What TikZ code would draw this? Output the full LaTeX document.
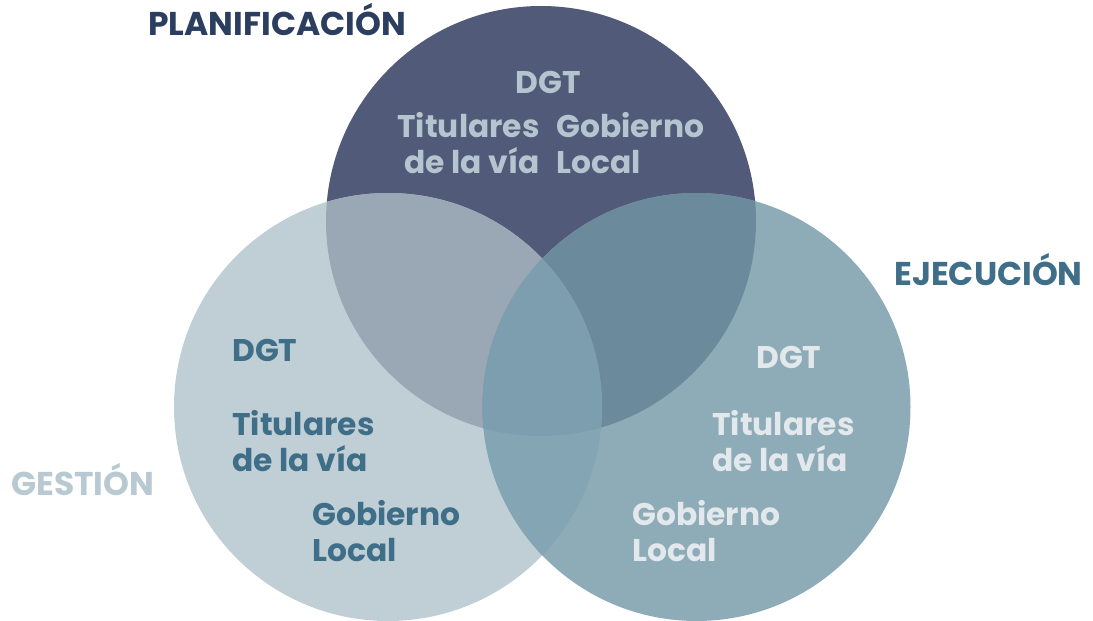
\documentclass[tikz,border=0pt]{standalone}
\usepackage{fontspec}
\setmainfont{Poppins}
\usepackage{tikz}

\definecolor{planC}{HTML}{515A78}
\definecolor{gestC}{HTML}{C0CED5}
\definecolor{ejecC}{HTML}{8EABB8}
\definecolor{planGest}{HTML}{9AA8B5}
\definecolor{planEjec}{HTML}{6B8A9C}
\definecolor{gestEjec}{HTML}{84A5B4}
\definecolor{allC}{HTML}{7D9EAE}
\definecolor{planTitle}{HTML}{2B3E5F}
\definecolor{gestTitle}{HTML}{B9C9D1}
\definecolor{ejecTitle}{HTML}{3F6E88}
\definecolor{planText}{HTML}{B5C5CF}
\definecolor{gestText}{HTML}{3F6E88}
\definecolor{ejecText}{HTML}{E2E8EC}

\tikzset{
  lbl/.style={inner sep=0pt, font=\fontsize{23.5}{27}\selectfont\bfseries},
  ttl/.style={inner sep=0pt, font=\fontsize{24.7}{27}\selectfont\bfseries, anchor=base west}
}

\begin{document}
\begin{tikzpicture}[x=0.75pt,y=0.75pt,yscale=-1,xscale=1]
\useasboundingbox (0,0) rectangle (1093,621);

% circles
\fill[planC] (541,221) circle (215);
\fill[gestC] (388,407) circle (214);
\fill[ejecC] (696.5,407) circle (214);

% overlaps
\begin{scope}
\clip (541,221) circle (215);
\fill[planGest] (388,407) circle (214);
\fill[planEjec] (696.5,407) circle (214);
\end{scope}
\begin{scope}
\clip (388,407) circle (214);
\fill[gestEjec] (696.5,407) circle (214);
\clip (696.5,407) circle (214);
\fill[allC] (541,221) circle (215);
\end{scope}

% titles
\node[ttl, text=planTitle] (plan) at (148,36) {PLANIFICACIÓN};
\node[ttl, text=gestTitle] (gest) at (11,495) {GESTIÓN};
\node[ttl, text=ejecTitle] (ejec) at (894,285) {EJECUCIÓN};

% planificacion
\node[lbl, text=planText, anchor=base] (pDgt) at (548,93) {DGT};
\node[lbl, text=planText, anchor=base east, align=right] (pTit) at (540,173) {Titulares\\de la vía};
\node[lbl, text=planText, anchor=base west, align=left] (pGob) at (556,173) {Gobierno\\Local};

% gestion
\node[lbl, text=gestText, anchor=base west] (gDgt) at (232,361) {DGT};
\node[lbl, text=gestText, anchor=base west, align=left] (gTit) at (232,471) {Titulares\\de la vía};
\node[lbl, text=gestText, anchor=base west, align=left] (gGob) at (312,561) {Gobierno\\Local};

% ejecucion
\node[lbl, text=ejecText, anchor=base west] (eDgt) at (756,368) {DGT};
\node[lbl, text=ejecText, anchor=base west, align=left] (eTit) at (712,471) {Titulares\\de la vía};
\node[lbl, text=ejecText, anchor=base west, align=left] (eGob) at (632,561) {Gobierno\\Local};

\end{tikzpicture}
\end{document}
